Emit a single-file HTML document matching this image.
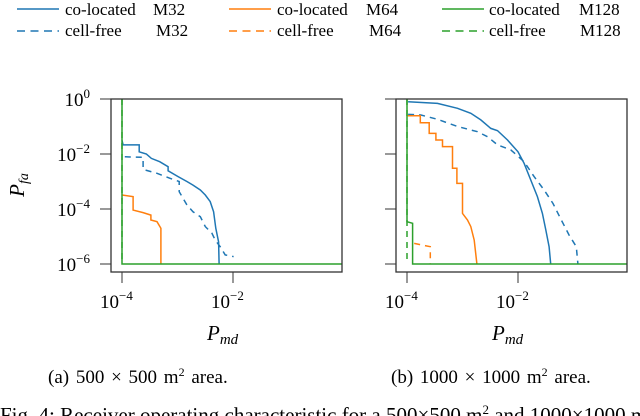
<!DOCTYPE html>
<html><head><meta charset="utf-8"><style>
html,body{margin:0;padding:0;background:#fff;width:640px;height:416px;overflow:hidden}
svg{display:block;font-family:"Liberation Serif",serif}
</style></head><body>
<svg id="chart" width="640" height="416" viewBox="0 0 640 416">
<g id="legend" font-size="17" fill="#000">
 <g><line x1="17" y1="9" x2="59" y2="9" stroke="#1f77b4" stroke-width="1.5"/><text x="65" y="15">co-located</text><text x="153" y="15">M32</text></g>
 <g><line x1="229" y1="9" x2="271" y2="9" stroke="#ff7f0e" stroke-width="1.5"/><text x="277" y="15">co-located</text><text x="366" y="15">M64</text></g>
 <g><line x1="442" y1="9" x2="484" y2="9" stroke="#2ca02c" stroke-width="1.5"/><text x="489" y="15">co-located</text><text x="579" y="15">M128</text></g>
 <g><line x1="17" y1="31" x2="59" y2="31" stroke="#1f77b4" stroke-width="1.5" stroke-dasharray="8,5.5"/><text x="65" y="36">cell-free</text><text x="156" y="36">M32</text></g>
 <g><line x1="229" y1="31" x2="271" y2="31" stroke="#ff7f0e" stroke-width="1.5" stroke-dasharray="8,5.5"/><text x="277" y="36">cell-free</text><text x="369" y="36">M64</text></g>
 <g><line x1="442" y1="31" x2="484" y2="31" stroke="#2ca02c" stroke-width="1.5" stroke-dasharray="8,5.5"/><text x="489" y="36">cell-free</text><text x="580" y="36">M128</text></g>
</g>
<text transform="translate(24,185) rotate(-90)" text-anchor="middle" font-size="21" font-style="italic">P<tspan font-size="14" dy="4">fa</tspan></text>
<text x="48" y="383" font-size="19" word-spacing="2">(a) 500 × 500 m<tspan font-size="12" dy="-7">2</tspan><tspan dy="7"> area.</tspan></text>
<text x="391" y="383" font-size="19" word-spacing="2">(b) 1000 × 1000 m<tspan font-size="12" dy="-7">2</tspan><tspan dy="7"> area.</tspan></text>
<text x="0" y="422" font-size="21">Fig. 4: Receiver operating characteristic for a 500×500 m<tspan font-size="13" dy="-8">2</tspan><tspan dy="8"> and 1000×1000 m²</tspan></text>
</svg>
<script>
// x = log10(Pmd), y = log10(Pfa)
const leftBlueSolidX = [-4,-3.98,-3.69,-3.69,-3.56,-3.47,-3.32,-3.17,-3.17,-2.99,-2.83,-2.72,-2.59,-2.5,-2.41,-2.35,-2.31,-2.26,-2.25];
const leftBlueSolidY = [-1.5,-1.67,-1.67,-1.92,-2.0,-2.16,-2.28,-2.46,-2.61,-2.82,-3.0,-3.13,-3.31,-3.49,-3.73,-4.1,-4.7,-5.2,-6];
const leftBlueDashX = [-3.95,-3.62,-3.62,-3.37,-3.14,-2.97,-2.97,-2.83,-2.72,-2.59,-2.5,-2.38,-2.32,-2.23,-2.14,-1.99];
const leftBlueDashY = [-2.1,-2.12,-2.56,-2.7,-2.88,-3.0,-3.37,-3.85,-4.1,-4.28,-4.64,-4.88,-5.13,-5.37,-5.67,-5.73];
const leftOrangeSolidX = [-4,-3.8,-3.8,-3.62,-3.48,-3.48,-3.37,-3.3,-3.3];
const leftOrangeSolidY = [-3.49,-3.55,-4.04,-4.13,-4.22,-4.4,-4.46,-4.7,-6];
const leftGreenSolidX = [-4,-4,0];
const leftGreenSolidY = [0,-6,-6];
const leftGreenDashX = [-4,-4];
const leftGreenDashY = [0,-6];

const rightBlueSolidX = [-3.98,-3.45,-3.09,-2.85,-2.67,-2.49,-2.37,-2.19,-2.0,-1.89,-1.77,-1.65,-1.56,-1.5,-1.44,-1.41];
const rightBlueSolidY = [-0.1,-0.16,-0.34,-0.52,-0.76,-1.07,-1.15,-1.49,-1.92,-2.34,-2.95,-3.55,-4.16,-4.76,-5.37,-6];
const rightBlueDashX = [-3.98,-3.75,-3.45,-3.09,-2.73,-2.55,-2.37,-2.13,-1.89,-1.71,-1.53,-1.37,-1.22,-1.08,-0.95,-0.92];
const rightBlueDashY = [-0.56,-0.58,-0.74,-1.0,-1.19,-1.37,-1.67,-1.85,-2.28,-2.82,-3.31,-3.8,-4.4,-4.95,-5.37,-6];
const rightOrangeSolidX = [-3.99,-3.76,-3.76,-3.6,-3.6,-3.48,-3.48,-3.36,-3.36,-3.18,-3.18,-3.1,-3.1,-3.0,-3.0,-2.91,-2.85,-2.79,-2.74];
const rightOrangeSolidY = [-0.61,-0.61,-0.86,-0.86,-1.25,-1.25,-1.49,-1.49,-1.73,-1.73,-2.52,-2.52,-3.07,-3.07,-4.16,-4.4,-4.64,-5.13,-6];
const rightOrangeDashX = [-3.87,-3.58,-3.58];
const rightOrangeDashY = [-5.25,-5.37,-6];
const rightGreenSolidX = [-4,-4,-3.9,-3.9,0];
const rightGreenSolidY = [0,-4.46,-4.52,-6,-6];
const rightGreenDashX = [-4,-4];
const rightGreenDashY = [0,-6];

const yTickValues = [0,-2,-4,-6];
const xTickValues = [-4,-2];

const NS = "http://www.w3.org/2000/svg";
const svg = document.getElementById('chart');
function mk(tag, attrs, parent){const e=document.createElementNS(NS,tag);for(const k in attrs)e.setAttribute(k,attrs[k]);parent.appendChild(e);return e;}

function panel(x0, name, series, labelsY){
  const fx0=x0, fx1=x0+231, fy0=99, fy1=272;
  const xs = v => fx0 + 11 + (v+4)*55.5;
  const ys = v => 99 - v*27.5;
  const g = mk('g',{},svg);
  
  
  const clipId = name+'-clip';
  const cp = mk('clipPath',{id:clipId},g);
  mk('rect',{x:fx0,y:fy0,width:fx1-fx0,height:fy1-fy0},cp);
  yTickValues.forEach(v=>{
    const t = mk('line',{x1:fx0-11,x2:fx0,y1:ys(v),y2:ys(v),stroke:'#333','stroke-width':1},g);
    
    
    if(labelsY){
      const tx = mk('text',{x:fx0-21,y:ys(v)+7,'text-anchor':'end','font-size':19},g);
      
      
      const a = mk('tspan',{},tx); a.textContent='10';
      const sp = mk('tspan',{dy:-8,'font-size':13},tx);
      sp.textContent = v===0?'0':'−'+(-v);
    }
  });
  xTickValues.forEach(v=>{
    const t = mk('line',{x1:xs(v),x2:xs(v),y1:fy1,y2:fy1+11,stroke:'#333','stroke-width':1},g);
    
    
    const tx = mk('text',{x:xs(v)-22,y:308,'font-size':19},g);
    
    
    const a = mk('tspan',{},tx); a.textContent='10';
    const sp = mk('tspan',{dy:-8,'font-size':13},tx);
    sp.textContent='−'+(-v);
  });
  const xt = mk('text',{x:xs(-2)-26,y:340,'font-size':21,'font-style':'italic'},g);
  
  
  const p0 = mk('tspan',{},xt); p0.textContent='P';
  const sub = mk('tspan',{dy:4,'font-size':15},xt); sub.textContent='md';
  const sg = mk('g',{'clip-path':'url(#'+clipId+')'},g);
  series.forEach(s=>{
    const pts = s.x.map((v,i)=>xs(v).toFixed(1)+','+ys(s.y[i]).toFixed(1)).join(' ');
    const p = mk('polyline',{points:pts,fill:'none',stroke:s.c,'stroke-width':1.5,'stroke-dasharray':s.d?'6,5':'none','stroke-linejoin':'miter'},sg);
    
    
  });
  const fr = mk('rect',{x:fx0,y:fy0,width:fx1-fx0,height:fy1-fy0,fill:'none',stroke:'#333','stroke-width':1.3},g);
  
  
}
const B='#1f77b4',O='#ff7f0e',G='#2ca02c';
panel(111,'plot-a',[
 {x:leftGreenDashX,y:leftGreenDashY,c:G,d:1,n:'cellfree-m128-line'},
 {x:leftBlueDashX,y:leftBlueDashY,c:B,d:1,n:'cellfree-m32-line'},
 {x:leftBlueSolidX,y:leftBlueSolidY,c:B,d:0,n:'colocated-m32-line'},
 {x:leftOrangeSolidX,y:leftOrangeSolidY,c:O,d:0,n:'colocated-m64-line'},
 {x:leftGreenSolidX,y:leftGreenSolidY,c:G,d:0,n:'colocated-m128-line'}
],true);
panel(396,'plot-b',[
 {x:rightGreenDashX,y:rightGreenDashY,c:G,d:1,n:'cellfree-m128-line'},
 {x:rightBlueDashX,y:rightBlueDashY,c:B,d:1,n:'cellfree-m32-line'},
 {x:rightBlueSolidX,y:rightBlueSolidY,c:B,d:0,n:'colocated-m32-line'},
 {x:rightOrangeDashX,y:rightOrangeDashY,c:O,d:1,n:'cellfree-m64-line'},
 {x:rightOrangeSolidX,y:rightOrangeSolidY,c:O,d:0,n:'colocated-m64-line'},
 {x:rightGreenSolidX,y:rightGreenSolidY,c:G,d:0,n:'colocated-m128-line'}
],false);
</script>
</body></html>
